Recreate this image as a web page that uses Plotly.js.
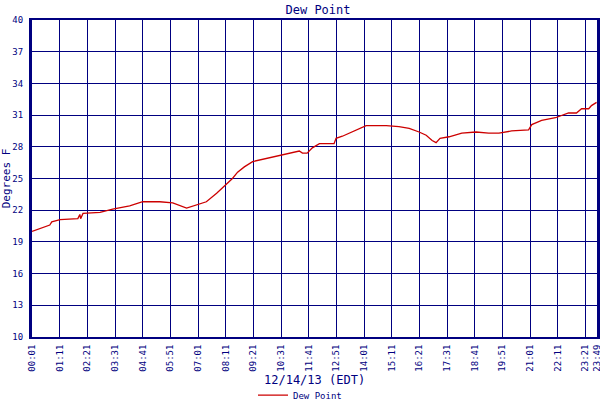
<!DOCTYPE html>
<html>
<head>
<meta charset="utf-8">
<script src="https://cdn.plot.ly/plotly-3.0.1.min.js"></script>
<style>
  html, body { margin: 0; padding: 0; background: #fff; }
  #plot { width: 600px; height: 400px; }
</style>
</head>
<body>
<div id="plot"></div>
<script>
// readings, local time on 12/14/13
var times = ['00:01','00:21','00:46','00:51','01:12','01:57','02:02','02:04','02:10','02:53','03:25','04:08','04:41',
             '05:24','05:57','06:32','06:57','07:22','07:48','08:08','08:28','08:41','08:58','09:19','09:44','10:34',
             '11:17','11:25','11:37','11:50','12:08','12:45','12:50','13:06','13:31','13:48','14:06','14:31','14:57',
             '15:29','15:55','16:20','16:38','16:53','17:03','17:13','17:36','18:08','18:44','19:16','19:42','20:14',
             '20:57','21:05','21:30','22:05','22:38','22:58','23:11','23:29','23:36','23:49'];
var dew_point = [20.0, 20.3, 20.6, 20.9, 21.1, 21.2, 21.6, 21.2, 21.7, 21.8, 22.1, 22.4, 22.8,
                 22.8, 22.7, 22.2, 22.5, 22.8, 23.6, 24.3, 25.0, 25.6, 26.1, 26.6, 26.8, 27.2,
                 27.6, 27.4, 27.4, 27.9, 28.3, 28.3, 28.8, 29.0, 29.4, 29.7, 30.0, 30.0, 30.0,
                 29.9, 29.75, 29.4, 29.1, 28.6, 28.4, 28.8, 28.95, 29.3, 29.4, 29.3, 29.3, 29.5,
                 29.6, 30.1, 30.5, 30.75, 31.2, 31.2, 31.6, 31.6, 31.9, 32.2];
var tick_labels = ['00:01','01:11','02:21','03:31','04:41','05:51','07:01','08:11','09:21','10:31','11:41',
                   '12:51','14:01','15:11','16:21','17:31','18:41','19:51','21:01','22:11','23:21','23:49'];
var y_ticks = [10, 13, 16, 19, 22, 25, 28, 31, 34, 37, 40];

function to_minutes(t) {
   var p = t.split(':');
   return parseInt(p[0], 10) * 60 + parseInt(p[1], 10);
}

var navy = '#000080';
var mono = 'DejaVu Sans Mono, monospace';

var dew_trace = {
   name: 'Dew Point',
   x: times.map(to_minutes),
   y: dew_point,
   mode: 'lines',
   line: {width: 1.3, color: '#cc0000'},
   hoverinfo: 'x+y'
};

var layout = {
   width: 600,
   height: 400,
   margin: {l: 32, r: 3, t: 20, b: 63},
   paper_bgcolor: '#ffffff',
   plot_bgcolor: '#ffffff',
   title: {
      text: 'Dew Point',
      font: {family: mono, size: 12, color: navy},
      x: 0.53,
      xanchor: 'center',
      y: 0.985,
      yanchor: 'top'
   },
   xaxis: {
      range: [1, 1430],
      automargin: false,
      tickmode: 'array',
      tickvals: tick_labels.map(to_minutes),
      ticktext: tick_labels,
      tickangle: -90,
      ticklabeloverflow: 'allow',
      ticklabelstandoff: 2,
      tickfont: {family: mono, size: 9, color: navy},
      showgrid: true,
      gridcolor: navy,
      gridwidth: 1,
      zeroline: false,
      showline: true,
      linecolor: navy,
      linewidth: 2,
      mirror: true,
      ticks: ''
   },
   yaxis: {
      range: [10, 40],
      automargin: false,
      tickmode: 'array',
      tickvals: y_ticks,
      ticktext: y_ticks.map(String),
      ticklabelstandoff: 4,
      tickfont: {family: mono, size: 9, color: navy},
      showgrid: true,
      gridcolor: navy,
      gridwidth: 1,
      zeroline: false,
      showline: true,
      linecolor: navy,
      linewidth: 3,
      mirror: true,
      ticks: '',
      title: {
         text: 'Degrees F',
         font: {family: mono, size: 11, color: navy}
      }
   },
   annotations: [{
      text: '12/14/13 (EDT)',
      xref: 'paper',
      yref: 'paper',
      x: 0.5,
      y: -0.136,
      xanchor: 'center',
      yanchor: 'middle',
      showarrow: false,
      font: {family: mono, size: 12, color: navy}
   }],
   showlegend: true,
   legend: {
      orientation: 'h',
      xref: 'container',
      yref: 'container',
      x: 0.5,
      xanchor: 'center',
      y: 0.012,
      yanchor: 'middle',
      font: {family: mono, size: 9, color: navy},
      bgcolor: 'rgba(0,0,0,0)'
   }
};

Plotly.newPlot('plot', [dew_trace], layout, {displayModeBar: false, staticPlot: true});
</script>
</body>
</html>
